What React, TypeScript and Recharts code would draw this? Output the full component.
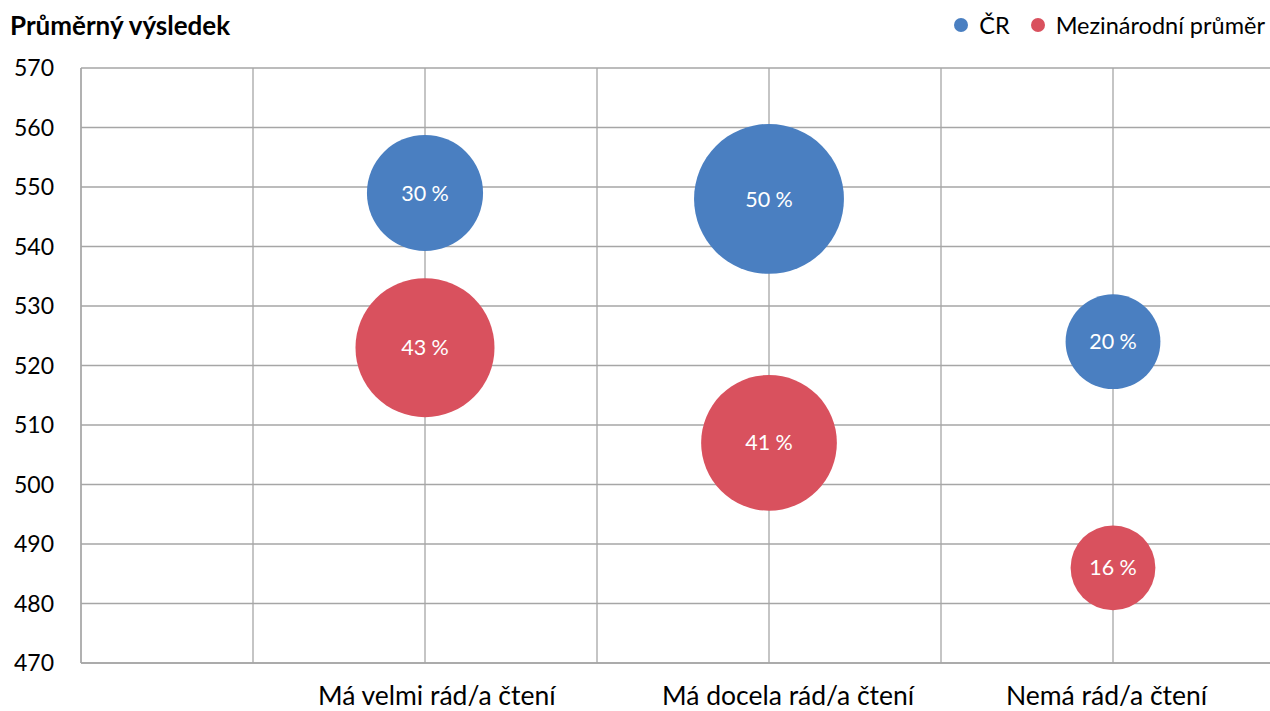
import React from "react";
import {
  ScatterChart,
  Scatter,
  XAxis,
  YAxis,
  ZAxis,
  CartesianGrid,
  Legend,
  LabelList,
} from "recharts";

const FONT = "Lato, 'Open Sans', sans-serif";
const GRID = "#a6a6a6";

// categories sit on every second x gridline
const categories = ["Má velmi rád/a čtení", "Má docela rád/a čtení", "Nemá rád/a čtení"];
const categoryX = [2, 4, 6];
const xTicks = [0, 1, 2, 3, 4, 5, 6, 7];
const yTicks = [470, 480, 490, 500, 510, 520, 530, 540, 550, 560, 570];
const seriesNames = ["ČR", "Mezinárodní průměr"];

// average score and share of pupils (bubble size, %)
const crScore = [549, 548, 524];
const crShare = [30, 50, 20];
const intScore = [523, 507, 486];
const intShare = [43, 41, 16];

const crData = categoryX.map((x, i) => ({ x, y: crScore[i], z: crShare[i] }));
const intData = categoryX.map((x, i) => ({ x, y: intScore[i], z: intShare[i] }));

const XTick = (props: any) => {
  const { x, y, payload } = props;
  const idx = categoryX.indexOf(payload.value);
  if (idx < 0) return null;
  return (
    <text x={x - 107} y={y + 34} textAnchor="start" fontSize={26.5} fontFamily={FONT} fill="#000">
      {categories[idx]}
    </text>
  );
};

const LegendContent = (props: any) => {
  const { payload } = props;
  const items = [...payload].sort(
    (a: any, b: any) => seriesNames.indexOf(a.value) - seriesNames.indexOf(b.value)
  );
  return (
    <div
      style={{
        display: "flex",
        alignItems: "center",
        height: 28,
        fontFamily: FONT,
        fontSize: 23.5,
        color: "#000",
      }}
    >
      {items.map((p: any) => (
        <div key={p.value} style={{ display: "flex", alignItems: "center", marginLeft: 21 }}>
          <span
            style={{
              width: 14,
              height: 14,
              borderRadius: "50%",
              background: p.color,
              display: "inline-block",
              marginRight: 11,
            }}
          />
          <span>{p.value}</span>
        </div>
      ))}
    </div>
  );
};

const bubbleLabel = (v: any) => `${v} %`;

export default function App() {
  return (
    <div
      style={{
        position: "fixed",
        left: 0,
        top: 0,
        width: 1270,
        height: 711,
        overflow: "hidden",
        background: "#fff",
        fontFamily: FONT,
      }}
    >
      <div
        style={{
          position: "absolute",
          left: 10,
          top: 9,
          fontSize: 26,
          fontWeight: 700,
          color: "#000",
          zIndex: 2,
        }}
      >
        Průměrný výsledek
      </div>
      <ScatterChart width={1300} height={711} margin={{ top: 40, right: 15, bottom: 0, left: 0 }}>
        <CartesianGrid stroke={GRID} strokeWidth={1.3} />
        <XAxis
          type="number"
          dataKey="x"
          domain={[0, 7]}
          ticks={xTicks}
          interval={0}
          height={48}
          tickLine={false}
          axisLine={{ stroke: GRID, strokeWidth: 1.3 }}
          tick={<XTick />}
        />
        <YAxis
          type="number"
          dataKey="y"
          domain={[470, 570]}
          ticks={yTicks}
          interval={0}
          width={81}
          tickLine={false}
          tickMargin={21}
          axisLine={{ stroke: GRID, strokeWidth: 1.3 }}
          tick={{ fontSize: 23, fill: "#000", fontFamily: FONT }}
        />
        <ZAxis type="number" dataKey="z" scale="linear" domain={[0, 50]} range={[0, 17650]} />
        <Legend
          verticalAlign="top"
          align="right"
          wrapperStyle={{ top: 11, right: 35, width: "auto", left: "auto" }}
          content={<LegendContent />}
        />
        <Scatter name={seriesNames[0]} data={crData} fill="#4a7fc1" isAnimationActive={false}>
          <LabelList
            dataKey="z"
            position="center"
            formatter={bubbleLabel}
            fill="#fff"
            fontSize={21.5}
            fontFamily={FONT}
          />
        </Scatter>
        <Scatter name={seriesNames[1]} data={intData} fill="#d9515e" isAnimationActive={false}>
          <LabelList
            dataKey="z"
            position="center"
            formatter={bubbleLabel}
            fill="#fff"
            fontSize={21.5}
            fontFamily={FONT}
          />
        </Scatter>
      </ScatterChart>
    </div>
  );
}
